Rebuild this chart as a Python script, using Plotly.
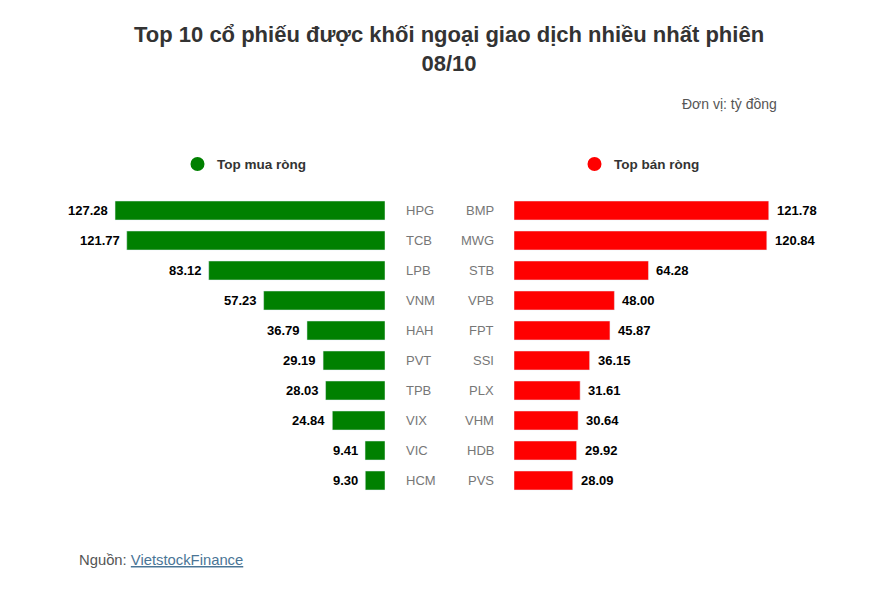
import plotly.graph_objects as go

buy_names = ["HPG", "TCB", "LPB", "VNM", "HAH", "PVT", "TPB", "VIX", "VIC", "HCM"]
buy_values = [127.28, 121.77, 83.12, 57.23, 36.79, 29.19, 28.03, 24.84, 9.41, 9.30]
sell_names = ["BMP", "MWG", "STB", "VPB", "FPT", "SSI", "PLX", "VHM", "HDB", "PVS"]
sell_values = [121.78, 120.84, 64.28, 48.00, 45.87, 36.15, 31.61, 30.64, 29.92, 28.09]
ranks = list(range(10))

W, H = 893, 590
OFF = 8  # page body margin
FONT = "Liberation Sans, Arial, sans-serif"

def px(x):
    return (x - OFF) / W

def py(y):
    return 1 - (y - OFF) / H

fig = go.Figure()
fig.add_trace(go.Bar(
    x=buy_values, y=ranks, orientation="h", marker_color="#008000",
    xaxis="x", yaxis="y", showlegend=False, hoverinfo="skip",
))
fig.add_trace(go.Bar(
    x=sell_values, y=ranks, orientation="h", marker_color="#ff0000",
    xaxis="x2", yaxis="y2", showlegend=False, hoverinfo="skip",
))

left_scale = 2.121
right_scale = 2.092
l_dom = [px(60), px(385)]
r_dom = [px(514), px(830)]
y_dom = [py(495.5), py(195.5)]

ax_common = dict(showgrid=False, zeroline=False, showticklabels=False, showline=False, ticks="")
fig.update_layout(
    width=W, height=H,
    margin=dict(l=0, r=0, t=0, b=0),
    paper_bgcolor="white", plot_bgcolor="white",
    bargap=0.367,
    xaxis=dict(domain=l_dom, range=[(385 - 60) / left_scale, 0], **ax_common),
    xaxis2=dict(domain=r_dom, range=[0, (830 - 514) / right_scale], **ax_common),
    yaxis=dict(domain=y_dom, range=[9.5, -0.5], anchor="x", **ax_common),
    yaxis2=dict(domain=y_dom, range=[9.5, -0.5], anchor="x2", **ax_common),
    font=dict(family=FONT),
)

ann = []
for i, (b, s) in enumerate(zip(buy_names, sell_names)):
    ann.append(dict(x=px(404), y=i, xref="paper", yref="y", text=b, showarrow=False,
                    xanchor="left", yanchor="middle",
                    font=dict(family=FONT, size=13, color="#777777")))
    ann.append(dict(x=px(496), y=i, xref="paper", yref="y", text=s, showarrow=False,
                    xanchor="right", yanchor="middle",
                    font=dict(family=FONT, size=13, color="#777777")))
for i, v in enumerate(buy_values):
    ann.append(dict(x=v, y=i, xref="x", yref="y", text=f"<b>{v:.2f}</b>", showarrow=False,
                    xanchor="right", yanchor="middle", xshift=-5,
                    font=dict(family=FONT, size=13, color="#000000")))
for i, v in enumerate(sell_values):
    ann.append(dict(x=v, y=i, xref="x2", yref="y2", text=f"<b>{v:.2f}</b>", showarrow=False,
                    xanchor="left", yanchor="middle", xshift=6,
                    font=dict(family=FONT, size=13, color="#000000")))

ann.append(dict(x=px(448.5), y=py(49), xref="paper", yref="paper",
                text="<b>Top 10 cổ phiếu được khối ngoại giao dịch nhiều nhất phiên<br>08/10</b>",
                showarrow=False, xanchor="center", yanchor="middle",
                font=dict(family=FONT, size=22, color="#333333")))
ann.append(dict(x=px(779), y=py(104), xref="paper", yref="paper", text="Đơn vị: tỷ đồng",
                showarrow=False, xanchor="right", yanchor="middle",
                font=dict(family=FONT, size=14, color="#555555")))
ann.append(dict(x=px(215), y=py(164), xref="paper", yref="paper", text="<b>Top mua ròng</b>",
                showarrow=False, xanchor="left", yanchor="middle",
                font=dict(family=FONT, size=13.5, color="#333333")))
ann.append(dict(x=px(612), y=py(164), xref="paper", yref="paper", text="<b>Top bán ròng</b>",
                showarrow=False, xanchor="left", yanchor="middle",
                font=dict(family=FONT, size=13.5, color="#333333")))
ann.append(dict(x=px(77), y=py(560), xref="paper", yref="paper",
                text="Nguồn: <span style='color:#4a7596'><u>VietstockFinance</u></span>",
                showarrow=False, xanchor="left", yanchor="middle",
                font=dict(family=FONT, size=14.8, color="#555555")))
fig.update_layout(annotations=ann)

shapes = []
for cx, col in [(197.5, "#008000"), (594.5, "#ff0000")]:
    shapes.append(dict(type="circle", xref="paper", yref="paper",
                       x0=px(cx - 7), x1=px(cx + 7), y0=py(164 + 7), y1=py(164 - 7),
                       fillcolor=col, line=dict(width=0)))
fig.update_layout(shapes=shapes)

fig.write_html("out.html")
